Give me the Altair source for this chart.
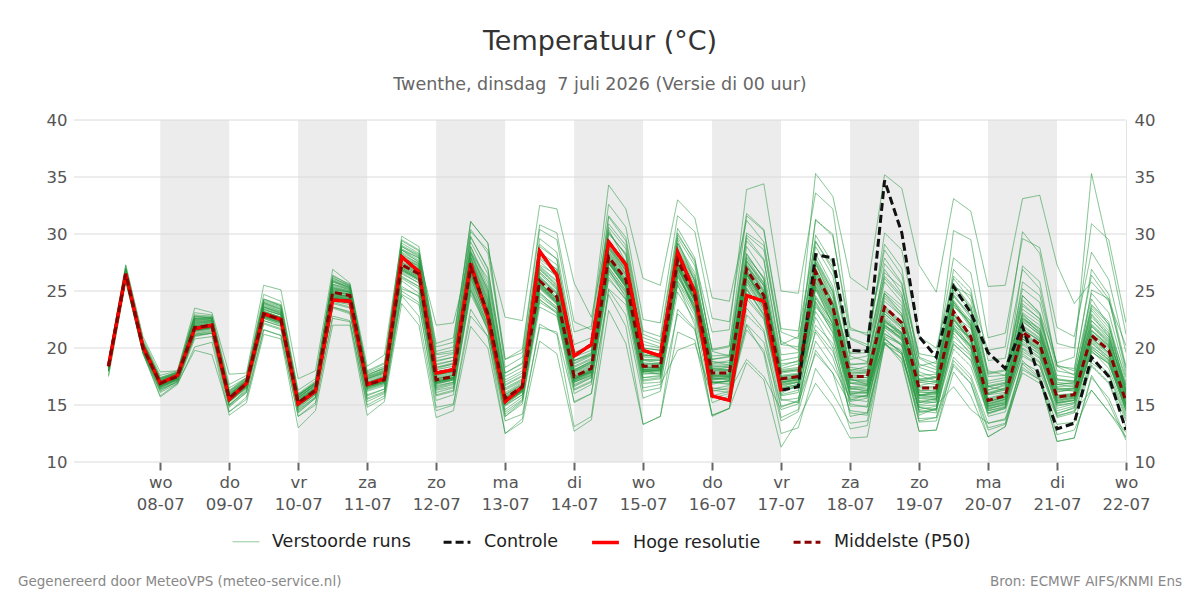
import json
import altair as alt
import pandas as pd

# ---------------- data ----------------
# time axis: hours after 07-07 00:00, one value every 6 hours (07-07 06:00 ... 22-07 00:00)
hours = [6 + 6 * i for i in range(60)]

hoge_resolutie = [18.4,26.5,20.1, 16.9,17.6,21.7,22.0, 15.5,16.9,23.0,22.5, 15.1,16.2,24.2,24.1,
                  16.8,17.3,28.0,26.7, 17.8,18.1,27.4,22.7, 15.3,16.6,28.5,26.4, 19.3,20.3,29.3,27.3,
                  19.8,19.3,28.4,24.9, 15.8,15.4,24.6,24.1, 16.2]

controle = [18.4,26.5,20.1, 16.9,17.6,21.7,22.0, 15.5,16.9,23.0,22.5, 15.1,16.2,24.2,24.1,
            16.8,17.3,28.0,26.7, 17.8,18.1,27.4,22.7, 15.3,16.6,28.5,26.4, 19.3,20.3,29.3,27.3,
            19.8,19.3,28.4,24.9, 15.8,15.4,24.6,24.1, 16.3,16.6,28.2,27.9, 19.8,19.7,34.7,30.1,
            21.0,19.2,25.4,23.1, 19.6,18.2,21.9,17.3, 12.9,13.4,19.2,17.5, 12.8]

middelste = [18.4,26.5,20.0, 16.9,17.5,21.8,22.0, 15.6,16.9,23.0,22.5, 15.2,16.3,24.9,24.6,
             16.8,17.2,27.3,26.5, 17.2,17.5,27.1,23.0, 15.6,16.6,25.9,24.5, 17.5,18.2,28.0,26.0,
             18.4,18.4,27.7,24.6, 17.8,17.8,26.9,24.6, 17.3,17.5,26.7,23.6, 17.5,17.5,23.6,22.2,
             16.5,16.5,23.2,21.0, 15.4,15.8,21.4,20.3, 15.7,15.9,21.1,19.8, 15.3]

run_01 = [18.6,26.8,20.3, 17.2,17.8,22.5,22.6, 15.9,17.1,23.8,23.2, 15.6,16.8,25.5,25.1, 17.3,17.9,28.4,27.6, 18.2,18.6,28.9,25.3, 16.4,17.2,27.1,25.8, 18.6,19.3,30.2,28.1, 19.5,19.1,29.5,25.8, 18.2,18.0,25.3,22.9, 16.0,16.8,24.6,22.1, 15.9,16.3,22.4,21.3, 15.2,15.6,24.9,23.3, 16.7,17.0,27.2,25.8, 18.4,17.6,24.3,22.0, 16.1]
run_02 = [18.0,26.2,19.8, 16.5,17.2,21.1,21.3, 15.0,16.4,22.4,21.9, 14.6,15.7,23.9,23.5, 15.9,16.4,26.1,25.2, 16.3,16.6,25.4,21.8, 14.2,15.4,24.3,23.0, 16.4,17.1,26.5,24.6, 17.1,17.3,25.8,23.1, 16.2,16.5,24.8,23.9, 16.9,17.3,22.0,20.4, 15.3,15.6,20.8,19.6, 14.1,14.7,21.5,20.2, 14.6,15.1,19.9,18.8, 14.0,14.5,18.7,17.6, 13.8]
run_03 = [18.8,27.0,20.6, 17.4,17.9,22.9,22.8, 16.5,17.4,24.3,23.7, 15.8,17.0,25.9,25.3, 17.6,18.3,28.9,28.1, 19.5,19.8,29.8,26.9, 17.8,18.7,29.6,28.4, 20.3,20.9,31.5,29.4, 21.2,20.6,30.1,27.5, 19.8,20.1,29.9,28.6, 20.3,21.0,35.3,33.3, 26.2,25.1,35.2,34.0, 27.3,24.9,33.1,32.0, 25.4,25.5,33.1,33.4, 27.3,23.9,25.8,24.1, 20.2]
run_04 = [17.6,25.9,19.6, 15.8,16.9,19.8,19.4, 14.4,15.5,21.6,21.1, 14.0,15.0,22.6,22.3, 15.0,15.8,24.6,22.8, 14.5,15.0,22.8,21.0, 13.6,14.2,21.8,21.4, 15.3,16.0,25.1,22.9, 15.6,16.2,23.0,21.6, 15.2,15.8,21.6,19.8, 13.6,14.4,19.8,17.8, 12.9,13.2,20.3,19.5, 13.5,13.6,18.4,16.9, 12.8,13.3,18.9,17.4, 12.4,12.8,16.3,14.4, 12.2]
run_05 = [18.2,26.4,20.1, 16.8,17.4,21.6,21.9, 15.4,16.7,22.9,22.3, 15.0,16.1,24.6,24.3, 16.6,17.0,27.0,26.2, 17.0,17.4,26.5,22.8, 15.3,16.3,25.4,24.0, 17.2,18.0,27.5,25.4, 18.1,18.0,27.0,24.0, 17.5,17.6,26.4,24.1, 17.0,17.3,26.1,23.0, 17.2,17.0,23.0,21.8, 16.2,16.0,22.6,20.6, 15.0,15.5,21.0,19.8, 15.2,15.5,20.6,19.2, 14.8]
run_06 = [18.5,26.6,20.2, 17.0,17.7,22.2,22.4, 15.8,17.0,23.4,22.9, 15.5,16.6,25.3,25.0, 17.5,18.1,29.0,28.2, 19.4,19.6,30.2,28.6, 22.7,22.4,32.5,32.2, 25.7,22.7,30.4,27.5, 20.6,20.1,27.2,25.3, 18.6,18.9,28.3,26.0, 18.2,18.6,27.9,25.1, 18.0,18.4,25.8,24.0, 17.1,17.4,24.6,22.6, 16.3,16.8,23.1,22.0, 16.5,16.4,22.7,21.2, 16.0]
run_07 = [18.3,26.5,20.4, 17.1,17.6,22.8,22.6, 15.7,17.2,24.0,23.5, 15.9,16.9,26.2,25.4, 17.9,18.6,29.4,28.5, 20.1,20.5,31.1,29.2, 19.0,19.6,30.4,29.5, 21.4,21.9,34.3,32.2, 26.1,25.5,33.0,31.4, 24.4,24.1,31.2,29.3, 20.6,19.8,28.9,26.3, 19.3,18.8,27.4,25.6, 17.6,17.1,25.7,23.4, 16.6,16.3,22.6,21.4, 16.1,16.5,23.5,21.8, 17.4]
run_08 = [18.4,26.3,19.9, 16.7,17.3,21.5,21.8, 15.3,16.6,23.2,22.7, 15.3,16.5,25.1,24.9, 16.9,17.5,27.8,27.0, 17.6,18.0,28.3,25.1, 15.9,16.8,27.3,26.4, 18.0,18.9,29.3,27.6, 19.3,19.5,29.9,27.7, 21.4,21.6,33.9,34.4, 25.0,24.8,33.6,32.2, 21.8,21.1,28.6,26.4, 19.2,18.6,26.3,24.8, 17.5,17.6,24.2,22.9, 17.2,17.0,22.4,20.8, 16.3]
run_09 = [18.1,26.2,19.7, 16.4,17.0,21.2,21.4, 15.0,16.3,22.6,22.0, 14.7,15.9,24.0,23.6, 15.8,16.4,25.9,24.8, 15.9,16.3,24.7,21.7, 14.0,15.1,23.6,22.8, 16.0,16.8,26.0,24.3, 16.9,17.0,24.9,22.4, 15.6,16.0,22.1,20.5, 14.8,15.4,21.6,19.7, 15.4,15.9,22.0,20.9, 15.8,16.2,23.8,22.1, 15.5,15.9,20.6,19.4, 14.7,15.1,20.0,18.6, 15.1]
run_10 = [18.9,27.2,20.8, 17.6,18.0,23.1,22.9, 16.8,17.6,24.7,24.1, 16.3,17.3,26.4,25.5, 17.4,18.0,28.6,27.5, 18.3,18.7,27.9,23.6, 15.0,16.2,26.6,25.3, 17.9,18.7,28.9,26.8, 18.9,18.7,26.7,23.3, 16.9,17.1,28.0,26.2, 18.0,18.2,25.2,22.4, 16.9,16.7,21.8,20.9, 15.8,15.6,20.4,18.9, 14.3,14.8,22.6,21.7, 16.8,16.6,21.9,20.4, 15.7]
run_11 = [18.0,26.0,19.6, 16.2,17.1,21.0,21.3, 14.9,16.1,22.1,21.6, 14.3,15.6,23.5,23.0, 15.5,16.1,25.2,24.6, 16.5,16.9,26.2,22.4, 15.6,16.5,24.9,23.5, 17.0,17.6,27.0,25.1, 17.8,17.7,26.4,23.8, 17.2,17.4,25.8,23.4, 16.8,17.0,24.4,21.8, 16.4,16.6,22.8,21.3, 15.6,15.8,21.9,20.1, 14.8,15.2,20.3,19.2, 15.1,15.4,19.7,18.6, 14.6]
run_12 = [18.7,26.9,20.5, 17.3,17.8,22.6,22.7, 16.2,17.3,24.1,23.6, 15.9,16.9,26.0,25.4, 17.7,18.2,29.8,28.9, 19.7,20.1,31.1,29.2, 18.3,19.2,29.1,27.8, 19.6,20.1,30.9,29.0, 20.9,20.4,28.6,25.9, 18.8,18.5,27.6,25.7, 18.4,18.9,29.3,27.1, 19.6,19.9,26.9,24.8, 17.9,17.4,24.2,22.3, 16.0,16.5,22.8,21.2, 16.4,16.2,25.1,24.3, 18.2]
run_13 = [18.5,26.7,20.3, 17.1,17.7,22.4,22.5, 16.0,17.1,23.6,23.0, 15.7,16.7,25.6,25.2, 18.0,18.7,28.6,27.9, 22.0,22.2,28.4,26.1, 17.8,18.6,27.8,26.6, 18.9,19.4,28.7,26.5, 19.4,19.2,27.8,25.0, 18.1,18.3,27.1,25.5, 17.9,18.1,27.6,24.9, 18.3,18.1,24.8,23.0, 17.2,17.0,23.8,21.8, 15.9,16.1,21.9,20.8, 16.2,16.3,21.5,20.2, 15.9]
run_14 = [17.5,25.8,19.5, 15.7,16.8,20.1,20.5, 14.1,15.2,21.2,20.8, 13.0,14.5,22.0,22.0, 14.1,15.3,23.9,22.0, 13.9,14.5,21.9,20.0, 12.5,13.5,20.6,19.5, 12.7,13.7,23.3,20.4, 13.3,14.0,21.4,20.7, 14.0,14.7,18.7,17.2, 11.3,13.7,16.9,14.9, 12.1,12.2,20.4,19.0, 12.7,12.8,17.9,15.8, 12.2,13.1,18.3,17.2, 11.8,12.1,17.6,15.2, 11.9]
run_15 = [18.6,26.7,20.2, 17.0,17.6,22.1,22.3, 15.8,17.0,23.5,23.0, 15.4,16.5,25.2,24.9, 17.0,17.5,27.9,27.2, 17.7,17.9,27.8,24.0, 16.0,16.9,26.7,25.2, 18.1,18.8,28.7,26.7, 18.9,18.9,28.4,25.4, 18.4,18.3,27.7,25.5, 17.9,18.1,27.5,24.6, 18.1,18.0,24.6,23.0, 17.0,16.8,24.1,22.0, 16.0,16.3,22.3,21.2, 16.3,16.4,21.9,20.5, 15.9]
run_16 = [18.2,26.3,19.9, 16.7,17.4,21.7,21.9, 15.4,16.8,22.8,22.4, 15.1,16.2,24.5,24.3, 16.6,17.1,26.8,26.0, 16.8,17.2,26.2,22.3, 15.1,16.1,25.3,23.9, 17.0,17.7,27.4,25.4, 17.9,18.1,27.3,24.3, 17.6,17.7,26.5,24.3, 17.2,17.4,26.3,23.2, 17.3,17.2,23.2,21.9, 16.3,16.2,22.9,20.8, 15.2,15.6,21.1,20.0, 15.5,15.7,20.9,19.5, 15.1]
run_17 = [18.3,26.4,20.0, 16.9,17.5,21.9,22.1, 15.6,16.9,23.1,22.6, 15.3,16.4,24.9,24.7, 16.7,17.2,27.3,26.6, 17.3,17.6,26.8,23.1, 15.4,16.4,25.6,24.2, 17.4,18.1,27.8,25.7, 18.3,18.3,26.8,23.4, 16.5,16.3,24.3,22.5, 15.4,15.6,21.4,19.2, 14.5,14.3,20.5,19.8, 13.6,13.9,19.2,17.6, 13.4,13.8,18.6,17.3, 13.3,13.5,18.4,16.9, 13.1]
run_18 = [18.4,26.5,20.1, 17.0,17.5,21.9,22.1, 15.6,17.0,23.1,22.6, 15.2,16.3,24.7,24.5, 16.9,17.4,27.6,26.8, 17.5,17.8,27.5,23.6, 15.8,16.7,26.3,24.9, 17.9,18.6,28.5,26.5, 18.7,18.6,28.1,25.0, 18.2,18.1,27.4,25.1, 17.6,17.8,27.0,24.0, 19.5,19.6,30.1,28.6, 21.0,20.0,26.1,24.2, 18.0,17.6,23.0,21.5, 16.8,17.0,23.7,22.1, 16.4]
run_19 = [18.1,26.1,19.8, 16.6,17.2,21.4,21.7, 15.3,16.5,22.7,22.2, 14.9,16.0,24.3,24.0, 16.4,16.9,26.6,25.7, 16.6,17.0,25.8,22.0, 15.0,15.9,24.8,23.6, 16.8,17.5,27.1,25.0, 17.7,17.8,27.0,24.1, 17.0,16.8,26.0,23.6, 16.5,16.8,25.4,22.5, 16.6,16.7,22.6,21.3, 15.9,15.7,22.2,20.1, 14.9,15.2,20.4,19.5, 15.0,15.2,20.2,18.9, 14.5]
run_20 = [18.6,26.8,20.4, 17.2,17.8,22.6,22.4, 16.0,17.2,23.9,23.3, 15.7,16.8,25.8,25.2, 17.3,17.8,28.3,27.4, 18.5,18.9,28.4,24.8, 16.7,17.5,27.9,26.9, 18.9,19.5,31.6,29.7, 21.5,21.0,30.5,27.9, 19.7,19.3,29.7,27.8, 18.9,19.2,29.9,27.4, 19.0,19.3,25.0,23.7, 17.2,17.5,26.9,25.2, 17.8,18.1,24.6,23.0, 17.3,17.1,23.3,21.5, 16.6]
run_21 = [18.0,26.1,19.7, 16.4,17.1,21.2,21.5, 15.0,16.2,22.4,21.9, 14.5,15.7,23.6,23.2, 15.3,16.0,25.0,24.0, 14.8,15.1,23.4,21.0, 12.5,13.8,22.1,21.2, 13.1,14.0,25.2,23.8, 16.2,16.5,25.9,23.5, 16.8,17.2,26.1,24.0, 17.1,17.4,25.8,22.8, 16.6,16.4,22.0,20.8, 15.2,15.4,21.8,20.3, 14.9,15.4,20.8,19.6, 15.3,15.6,20.5,19.0, 14.9]
run_22 = [18.2,26.3,19.9, 16.7,17.3,21.6,21.8, 15.4,16.7,22.9,22.4, 15.0,16.1,24.4,24.2, 16.3,16.8,26.3,25.4, 16.1,16.5,25.1,22.0, 14.4,15.5,24.0,23.1, 15.2,16.0,24.7,21.9, 13.3,14.0,23.4,21.7, 14.1,14.7,23.5,21.6, 14.9,15.3,24.4,22.3, 15.8,15.7,22.1,20.7, 14.5,14.3,21.0,19.6, 14.0,14.4,19.5,18.4, 14.5,14.9,19.8,18.2, 14.2]
run_23 = [18.4,26.6,20.2, 16.9,17.6,22.0,22.2, 15.6,16.9,23.2,22.7, 15.3,16.4,25.0,24.7, 16.8,17.3,27.5,26.7, 17.3,17.6,27.2,23.4, 15.6,16.5,26.2,24.8, 17.5,18.2,28.1,25.8, 18.0,17.7,25.6,22.0, 14.1,14.7,22.9,21.4, 13.9,14.6,23.6,21.9, 14.9,14.9,22.3,21.2, 14.3,14.6,22.9,21.7, 15.6,16.0,21.6,20.6, 15.8,16.0,21.3,20.1, 15.5]
run_24 = [18.5,26.6,20.1, 17.0,17.6,22.2,22.3, 15.7,17.0,23.3,22.9, 15.4,16.5,25.1,24.8, 16.9,17.4,27.7,27.0, 17.6,17.9,27.6,23.8, 15.7,16.6,26.5,25.1, 17.8,18.5,28.4,26.4, 18.6,18.6,28.0,25.1, 18.0,18.1,27.3,25.0, 17.4,17.6,26.9,23.9, 17.7,17.8,24.1,22.8, 18.4,18.8,30.3,29.5, 20.9,21.3,29.6,28.8, 21.8,21.0,28.4,26.0, 19.6]
run_25 = [18.2,26.2,19.8, 16.6,17.3,21.5,21.7, 15.3,16.6,22.7,22.2, 15.0,16.1,24.2,23.9, 16.5,17.0,26.8,26.0, 16.9,17.3,26.4,22.6, 15.2,16.2,25.3,23.9, 17.1,17.8,27.5,25.3, 17.9,18.0,27.1,24.0, 17.2,17.3,26.2,23.8, 16.7,17.0,25.4,22.0, 15.5,15.3,20.8,19.6, 13.8,13.9,18.6,16.9, 12.2,13.1,18.1,17.2, 11.8,12.1,17.4,15.6, 12.1]
run_26 = [18.7,26.9,20.5, 17.3,17.9,22.7,22.7, 16.2,17.4,24.2,23.7, 15.9,17.0,26.1,25.5, 17.6,18.2,28.9,28.0, 18.8,19.2,29.3,26.5, 17.2,18.0,28.4,27.3, 19.2,19.8,30.1,28.2, 20.0,19.8,29.2,26.6, 19.0,19.2,30.1,29.0, 20.3,20.1,31.3,29.8, 21.6,21.3,27.9,25.7, 19.1,18.3,24.0,22.1, 16.6,16.9,25.8,24.6, 18.5,18.0,26.9,24.7, 18.4]
run_27 = [18.3,26.4,20.0, 16.8,17.4,21.8,21.9, 15.5,16.8,23.0,22.5, 15.1,16.2,24.6,24.4, 16.7,17.2,27.1,26.3, 17.1,17.4,26.6,22.9, 15.4,16.4,25.7,24.3, 17.3,18.0,27.8,25.6, 18.2,18.2,27.4,24.3, 17.6,17.5,26.7,24.2, 16.2,16.6,24.0,21.3, 14.0,14.3,21.2,20.4, 15.0,15.3,22.5,20.8, 15.3,15.7,22.0,20.9, 15.9,16.0,21.5,20.2, 15.6]
run_28 = [18.9,27.3,21.0, 17.9,18.0,23.5,23.1, 17.7,17.8,25.5,25.1, 17.3,18.0,26.9,25.7, 18.4,19.4,29.5,28.6, 20.4,20.9,30.4,28.3, 19.0,19.9,30.8,30.1, 22.3,21.6,32.6,30.6, 22.5,22.2,31.6,30.2, 22.6,22.3,31.8,30.4, 21.7,21.5,29.4,26.8, 20.8,20.1,26.3,24.6, 18.6,18.1,25.1,23.6, 17.7,18.0,25.2,24.0, 18.0,17.7,24.8,23.1, 17.6]
run_29 = [18.0,26.0,19.5, 16.1,16.9,20.8,21.0, 14.4,15.7,21.6,21.1, 14.0,15.2,22.8,22.4, 14.8,15.6,24.7,23.8, 15.4,15.9,25.0,21.5, 14.0,15.3,24.5,23.4, 16.6,17.4,26.8,24.9, 17.4,17.5,26.2,23.7, 17.0,17.1,25.6,23.2, 16.4,16.7,23.8,21.4, 16.0,16.1,22.5,21.1, 15.4,15.5,21.7,20.0, 14.5,14.9,23.4,22.3, 16.8,16.9,22.9,21.0, 16.3]
run_30 = [18.5,26.6,20.0, 16.9,17.5,21.9,22.0, 15.7,16.9,23.0,22.5, 15.2,16.3,24.9,24.6, 16.9,17.3,27.3,26.4, 17.2,17.4,27.1,23.1, 15.5,16.5,26.0,24.5, 17.5,18.2,28.0,26.0, 18.4,18.4,27.6,24.6, 17.8,17.8,26.9,24.6, 17.3,17.5,26.6,23.6, 17.5,17.4,23.6,22.2, 16.5,16.5,23.1,21.0, 15.4,15.8,21.4,20.3, 15.7,15.9,21.1,19.8, 15.3]
run_31 = [18.6,26.7,20.3, 17.1,17.7,22.3,22.4, 15.9,17.1,23.6,23.1, 15.6,16.7,25.4,25.0, 17.2,17.7,28.1,27.3, 18.1,18.4,28.1,24.4, 16.3,17.1,27.0,25.6, 18.3,19.0,29.0,27.0, 19.2,19.1,28.8,25.9, 18.8,18.7,28.2,26.1, 15.5,15.2,19.5,17.8, 15.1,14.8,21.9,21.2, 15.9,16.1,23.6,22.4, 16.6,16.9,22.9,21.7, 17.0,16.8,22.1,20.7, 16.7]
run_32 = [18.3,26.5,20.1, 16.8,17.5,21.8,22.0, 15.5,16.8,23.0,22.4, 15.2,16.3,24.7,24.5, 16.8,17.3,27.4,26.6, 17.3,17.6,27.3,23.3, 15.6,16.6,26.1,24.7, 17.6,18.3,28.2,26.1, 18.5,18.5,27.9,24.8, 17.9,17.9,27.1,24.8, 17.5,17.7,26.8,23.7, 17.6,17.6,23.7,22.3, 16.6,16.6,23.3,21.2, 15.9,16.4,24.6,23.1, 18.7,19.2,35.3,28.6, 21.2]
run_33 = [18.1,26.3,19.9, 16.6,17.3,21.6,21.8, 15.3,16.6,22.8,22.3, 14.9,16.1,24.4,24.1, 16.5,17.0,26.7,25.9, 16.9,17.2,26.5,22.7, 15.3,16.3,25.6,24.1, 17.3,17.9,27.6,25.5, 18.0,18.1,27.2,24.2, 17.3,17.4,26.5,24.0, 16.6,17.0,25.7,22.6, 16.4,16.3,20.4,19.1, 14.8,14.6,19.9,18.4, 14.2,14.7,20.0,19.1, 14.9,15.2,19.6,18.7, 14.4]
run_34 = [18.4,26.5,20.0, 16.9,17.5,21.9,22.0, 15.6,16.9,23.1,22.6, 15.3,16.4,24.8,24.5, 16.8,17.2,27.3,26.5, 17.2,17.5,27.0,23.0, 15.5,16.5,25.8,24.4, 17.4,18.1,27.9,25.9, 18.3,18.3,27.5,24.5, 17.7,17.7,26.8,24.5, 17.2,17.4,26.6,23.5, 17.4,17.4,23.5,22.1, 16.7,17.0,25.4,24.6, 19.8,20.1,30.2,28.3, 20.4,20.0,30.9,29.5, 22.2]
run_35 = [18.2,26.4,20.0, 16.7,17.3,21.7,21.9, 15.4,16.7,22.9,22.4, 15.0,16.2,24.5,24.2, 16.6,17.1,26.9,26.1, 17.0,17.3,26.7,22.9, 15.3,16.3,25.5,24.1, 17.2,17.9,27.4,25.3, 17.9,17.9,26.6,23.2, 16.3,16.1,22.0,19.5, 12.5,13.0,18.2,16.0, 13.4,13.6,21.0,20.3, 14.4,14.7,22.0,20.9, 15.1,15.5,21.3,20.2, 15.4,15.7,20.8,19.6, 15.0]
run_36 = [18.6,26.8,20.3, 17.1,17.7,22.4,22.5, 15.9,17.2,23.7,23.2, 15.6,16.8,25.6,25.1, 17.3,17.8,28.2,27.4, 18.3,18.6,28.3,24.6, 16.5,17.3,27.2,25.9, 18.4,19.1,29.2,27.3, 19.3,19.3,29.0,26.1, 19.0,19.3,29.4,27.7, 19.4,19.6,31.2,30.0, 20.9,20.3,29.1,27.0, 18.3,17.8,24.5,22.9, 16.9,17.2,23.9,22.5, 17.6,17.4,23.0,21.3, 16.8]
run_37 = [18.0,26.1,19.8, 16.5,17.2,21.3,21.6, 15.2,16.5,22.6,22.1, 14.8,15.9,24.1,23.8, 16.2,16.7,26.2,25.4, 16.4,16.8,25.6,22.1, 14.9,15.9,24.7,23.4, 16.7,17.4,26.7,24.8, 17.4,17.6,26.3,23.6, 17.0,17.1,25.9,23.5, 16.5,16.8,25.1,22.1, 16.5,16.2,22.4,21.0, 15.6,15.5,21.7,19.8, 14.7,15.1,19.7,18.7, 14.2,14.8,19.0,17.8, 14.0]
run_38 = [18.8,27.0,20.6, 17.4,17.9,22.8,22.7, 16.3,17.4,24.3,23.8, 16.0,17.1,26.3,25.6, 17.8,18.4,29.2,28.3, 19.1,19.5,29.7,27.0, 17.5,18.3,28.9,27.8, 19.6,20.2,30.6,28.7, 20.3,20.0,27.9,24.6, 17.4,17.2,25.1,23.0, 16.3,16.6,24.1,21.6, 16.1,16.0,22.2,21.4, 15.8,16.0,22.4,20.7, 15.3,15.7,21.7,20.6, 15.6,15.8,21.2,20.0, 15.4]
run_39 = [18.3,26.5,20.0, 16.9,17.4,21.8,22.0, 15.6,16.9,23.0,22.5, 15.2,16.3,24.8,24.5, 16.7,17.2,27.2,26.4, 17.1,17.4,26.8,22.9, 15.4,16.4,25.7,24.3, 17.3,18.0,27.7,25.6, 18.1,18.2,27.0,23.7, 17.0,16.9,25.2,22.8, 15.8,16.1,22.7,20.0, 14.3,14.1,20.5,18.7, 12.7,12.8,18.9,17.3, 13.0,13.4,18.7,17.9, 14.3,14.7,19.9,18.8, 14.6]
run_40 = [18.5,26.6,20.1, 17.0,17.6,22.0,22.2, 15.7,17.0,23.2,22.7, 15.3,16.4,25.0,24.7, 16.9,17.4,27.5,26.7, 17.4,17.7,27.3,23.4, 15.7,16.6,26.2,24.8, 17.7,18.4,28.3,26.3, 18.6,18.6,28.0,24.9, 18.0,18.0,27.2,24.9, 17.5,17.7,27.0,23.9, 17.8,17.9,24.4,22.8, 17.0,17.1,24.0,21.9, 16.1,16.5,22.4,21.1, 16.4,16.5,22.0,20.6, 16.0]
run_41 = [18.1,26.2,19.8, 16.6,17.2,21.5,21.8, 15.3,16.6,22.7,22.2, 14.9,16.0,24.3,24.0, 16.4,16.9,26.5,25.7, 16.7,17.0,26.0,22.4, 15.2,16.2,25.2,23.8, 17.0,17.6,26.9,24.4, 16.5,16.8,19.8,20.4, 15.8,16.2,19.0,17.5, 14.6,15.1,20.6,18.4, 15.6,15.8,21.8,20.7, 15.3,15.2,21.3,19.4, 14.5,14.8,20.8,19.9, 15.2,15.4,20.1,19.0, 14.8]
run_42 = [18.7,26.8,20.4, 17.2,17.8,22.5,22.6, 16.1,17.3,23.9,23.4, 15.8,16.9,25.8,25.3, 17.5,18.0,28.6,27.7, 18.6,18.9,28.6,25.0, 16.8,17.6,27.6,26.2, 18.7,19.4,29.5,27.4, 19.6,19.5,29.2,26.3, 19.3,19.4,28.9,26.7, 18.6,18.8,28.3,25.4, 18.5,18.7,26.1,24.4, 17.6,17.7,25.6,23.7, 17.1,17.4,23.7,22.6, 17.2,17.1,23.8,22.3, 17.0]
run_43 = [18.2,26.3,19.9, 16.7,17.3,21.6,21.8, 15.4,16.7,22.8,22.3, 15.0,16.1,24.5,24.2, 16.6,17.1,26.9,26.0, 17.0,17.3,26.7,22.8, 15.3,16.3,25.5,24.0, 17.2,17.9,27.6,25.5, 18.1,18.1,27.2,24.2, 17.4,17.5,26.5,24.2, 16.9,17.2,26.2,23.1, 17.0,16.9,23.3,21.8, 16.1,16.1,22.7,20.6, 15.1,15.5,21.0,19.9, 15.4,15.6,20.7,19.4, 15.0]
run_44 = [18.4,26.4,20.0, 16.8,17.4,21.8,21.9, 15.5,16.8,22.9,22.4, 15.1,16.2,24.7,24.4, 16.7,17.1,27.1,26.3, 17.1,17.4,26.8,22.8, 15.4,16.4,25.7,24.3, 17.4,18.0,27.8,25.7, 18.3,18.3,27.4,24.4, 17.6,17.6,26.6,24.2, 17.0,17.2,25.5,22.7, 16.2,16.1,21.6,20.2, 14.9,15.0,16.6,14.6, 13.4,13.7,17.8,16.9, 14.1,14.4,16.3,14.4, 12.6]
run_45 = [18.6,26.7,20.3, 17.1,17.7,22.3,22.4, 15.9,17.1,23.6,23.1, 15.5,16.6,25.3,24.9, 17.1,17.6,28.0,27.2, 17.9,18.2,28.0,24.2, 16.1,17.0,26.9,25.5, 18.1,18.8,28.9,26.9, 19.0,19.0,28.6,25.6, 18.5,18.5,27.9,25.7, 18.1,18.3,27.8,24.9, 18.6,18.6,26.6,25.3, 19.5,19.2,27.9,26.6, 18.9,19.1,26.9,25.2, 18.4,18.2,26.4,24.3, 17.9]
run_46 = [17.9,26.0,19.6, 16.3,17.0,21.1,21.3, 14.8,16.1,22.2,21.7, 14.4,15.6,23.6,23.1, 15.6,16.2,25.4,24.5, 15.8,16.2,25.2,21.6, 14.6,15.7,24.2,23.2, 16.3,17.0,26.2,24.2, 17.2,17.4,25.5,22.8, 16.4,16.7,24.6,22.6, 15.9,16.3,23.2,20.9, 15.9,15.8,21.3,20.2, 14.6,14.9,20.3,19.0, 14.3,14.7,19.3,18.4, 13.9,14.3,18.5,17.0, 13.6]
run_47 = [18.5,26.6,20.2, 17.0,17.6,22.1,22.3, 15.8,17.0,23.4,22.9, 15.4,16.5,25.2,24.9, 17.0,17.5,27.9,27.1, 17.8,18.1,27.9,24.1, 15.9,16.8,26.9,25.4, 18.0,18.7,28.8,26.8, 19.0,18.9,28.3,25.2, 18.3,18.4,27.6,25.4, 17.8,18.0,27.3,24.4, 17.9,17.9,24.8,23.4, 17.3,17.4,24.7,22.8, 16.3,16.7,22.5,21.4, 16.6,16.7,22.4,21.0, 16.2]
run_48 = [18.2,26.3,19.9, 16.7,17.3,21.6,21.8, 15.4,16.7,22.8,22.3, 15.0,16.1,24.4,24.2, 16.6,17.0,26.9,26.1, 16.9,17.2,26.5,22.7, 15.2,16.2,25.4,24.0, 17.1,17.8,27.5,25.4, 18.0,18.0,27.1,24.1, 17.3,17.4,26.4,24.0, 16.8,17.1,25.9,22.9, 16.9,16.8,23.0,21.6, 15.9,15.9,22.5,20.4, 14.9,15.3,20.8,19.7, 15.2,15.4,20.4,19.2, 14.8]
run_49 = [18.7,26.9,20.5, 17.3,17.8,22.6,22.6, 16.1,17.2,24.0,23.4, 15.8,16.9,25.9,25.3, 17.4,17.9,28.7,27.9, 18.9,19.2,28.9,25.7, 17.0,17.8,28.1,26.9, 18.9,19.6,30.0,28.3, 20.0,19.8,29.7,27.2, 19.9,20.2,31.6,30.3, 21.4,20.8,27.5,24.0, 17.3,16.8,20.9,19.4, 14.8,14.5,20.6,19.3, 14.7,15.0,21.6,20.7, 15.8,15.9,21.6,20.3, 15.6]
run_50 = [18.3,26.4,20.0, 16.8,17.4,21.8,21.9, 15.5,16.8,22.9,22.4, 15.1,16.2,24.6,24.3, 16.7,17.1,27.0,26.2, 17.0,17.4,26.7,22.9, 15.3,16.3,25.6,24.1, 17.3,17.9,27.7,25.6, 18.1,18.2,27.3,24.3, 17.5,17.5,26.6,24.2, 17.0,17.3,26.4,23.3, 17.2,17.1,23.4,22.0, 16.3,16.3,22.9,20.8, 15.3,15.7,21.2,20.1, 15.6,15.8,20.9,19.6, 15.2]

runs = [run_01, run_02, run_03, run_04, run_05, run_06, run_07, run_08, run_09, run_10,
        run_11, run_12, run_13, run_14, run_15, run_16, run_17, run_18, run_19, run_20,
        run_21, run_22, run_23, run_24, run_25, run_26, run_27, run_28, run_29, run_30,
        run_31, run_32, run_33, run_34, run_35, run_36, run_37, run_38, run_39, run_40,
        run_41, run_42, run_43, run_44, run_45, run_46, run_47, run_48, run_49, run_50]

# x-axis tick labels (one per day, at 00:00)
tick_hours = [24, 48, 72, 96, 120, 144, 168, 192, 216, 240, 264, 288, 312, 336, 360]
tick_days = ["wo", "do", "vr", "za", "zo", "ma", "di", "wo", "do", "vr", "za", "zo", "ma", "di", "wo"]
tick_dates = ["08-07", "09-07", "10-07", "11-07", "12-07", "13-07", "14-07", "15-07",
              "16-07", "17-07", "18-07", "19-07", "20-07", "21-07", "22-07"]
# shaded (grey) days: start hour of each shaded day
shaded_start = [24, 72, 120, 168, 216, 264, 312]
y_ticks = [10, 15, 20, 25, 30, 35, 40]

SERIES = ["Verstoorde runs", "Controle", "Hoge resolutie", "Middelste (P50)"]
COLORS = ["#2a9a42", "#111111", "#ff0000", "#8b0000"]
DASHES = [[1, 0], [8, 4], [1, 0], [7, 4]]
WIDTHS = [1.0, 3.0, 3.5, 3.0]
OPACS = [0.6, 1.0, 1.0, 1.0]

for r in runs:
    assert len(r) == 60, len(r)
assert len(controle) == 60 and len(middelste) == 60 and len(hoge_resolutie) == 40

# ---------------- tables ----------------
rows = []
for i, run in enumerate(runs, start=1):
    for h, v in zip(hours, run):
        rows.append({"uur": h, "temp": v, "run": i, "reeks": SERIES[0]})
ens_df = pd.DataFrame(rows)


def series_df(values, name):
    return pd.DataFrame({"uur": hours[:len(values)], "temp": values, "reeks": name})


ctrl_df = series_df(controle, SERIES[1])
hr_df = series_df(hoge_resolutie, SERIES[2])
med_df = series_df(middelste, SERIES[3])
band_df = pd.DataFrame({"start": shaded_start, "end": [s + 24 for s in shaded_start]})
grid_df = pd.DataFrame({"v": y_ticks})

FONT = "DejaVu Sans"
W, H = 1052, 342

x_scale = alt.Scale(domain=[-6, 360], nice=False, zero=False)
y_scale = alt.Scale(domain=[10, 40], nice=False, zero=False)

label_expr = "[{d}[indexof({h}, datum.value)], {t}[indexof({h}, datum.value)]]".format(
    d=json.dumps(tick_days), t=json.dumps(tick_dates), h=json.dumps(tick_hours))

x_axis = alt.Axis(values=tick_hours, labelExpr=label_expr, title=None, grid=False, domain=False,
                  ticks=True, tickSize=8, tickWidth=2, tickColor="#666666",
                  labelFont=FONT, labelFontSize=16.5, labelColor="#555555", labelPadding=4,
                  labelLineHeight=22, labelFlush=False, labelOverlap=False, labelAngle=0,
                  labelBaseline="top")

left_axis = alt.Axis(orient="left", values=y_ticks, title=None, grid=False, domain=False, ticks=False,
                     labelFont=FONT, labelFontSize=16.5, labelColor="#555555", labelPadding=7)
right_axis = alt.Axis(orient="right", values=y_ticks, title=None, grid=False, domain=True,
                      domainColor="#e2e2e2", domainWidth=1, ticks=False,
                      labelFont=FONT, labelFontSize=16.5, labelColor="#555555", labelPadding=8)

legend = alt.Legend(title=None, orient="none", legendX=158, legendY=407, direction="horizontal",
                    symbolType="stroke", symbolSize=720, labelFont=FONT, labelFontSize=17.5,
                    labelColor="#222222", labelOffset=12, columnPadding=26)

enc_common = dict(
    color=alt.Color("reeks:N", scale=alt.Scale(domain=SERIES, range=COLORS), legend=legend),
    strokeDash=alt.StrokeDash("reeks:N", scale=alt.Scale(domain=SERIES, range=DASHES), legend=legend),
    strokeWidth=alt.StrokeWidth("reeks:N", scale=alt.Scale(domain=SERIES, range=WIDTHS, type="ordinal"),
                                legend=legend),
    opacity=alt.Opacity("reeks:N", scale=alt.Scale(domain=SERIES, range=OPACS, type="ordinal"),
                        legend=legend),
)

bands = alt.Chart(band_df).mark_rect(color="#ececec").encode(
    x=alt.X("start:Q", scale=x_scale, axis=x_axis),
    x2="end:Q",
    y=alt.value(0),
    y2=alt.value(H),
)

grid = alt.Chart(grid_df).mark_rule(color="#dadada", strokeWidth=1).encode(
    y=alt.Y("v:Q", scale=y_scale, axis=left_axis)
)

ens = alt.Chart(ens_df).mark_line(clip=True).encode(
    x=alt.X("uur:Q", scale=x_scale, axis=x_axis),
    y=alt.Y("temp:Q", scale=y_scale, axis=right_axis),
    detail="run:N",
    **enc_common,
)

ctrl = alt.Chart(ctrl_df).mark_line(clip=True).encode(
    x=alt.X("uur:Q", scale=x_scale, axis=x_axis),
    y=alt.Y("temp:Q", scale=y_scale, axis=None),
    **enc_common,
)
hires = alt.Chart(hr_df).mark_line(clip=True).encode(
    x=alt.X("uur:Q", scale=x_scale, axis=x_axis),
    y=alt.Y("temp:Q", scale=y_scale, axis=None),
    **enc_common,
)
med = alt.Chart(med_df).mark_line(clip=True).encode(
    x=alt.X("uur:Q", scale=x_scale, axis=x_axis),
    y=alt.Y("temp:Q", scale=y_scale, axis=None),
    **enc_common,
)

one = pd.DataFrame({"k": [0]})
foot_left = alt.Chart(one).mark_text(align="left", baseline="middle", font=FONT, fontSize=13.5,
                                     color="#888888").encode(
    x=alt.value(-56), y=alt.value(462), text=alt.value("Gegenereerd door MeteoVPS (meteo-service.nl)"))
foot_right = alt.Chart(one).mark_text(align="right", baseline="middle", font=FONT, fontSize=13.5,
                                      color="#888888").encode(
    x=alt.value(1108), y=alt.value(462), text=alt.value("Bron: ECMWF AIFS/KNMI Ens"))

chart = alt.layer(bands, grid, ens, ctrl, hires, med, foot_left, foot_right).resolve_axis(
    y="independent"
).properties(
    width=W,
    height=H,
    title=alt.TitleParams(
        text="Temperatuur (°C)",
        subtitle="Twenthe, dinsdag\u00a0 7 juli 2026 (Versie di 00 uur)",
        anchor="middle", font=FONT, fontSize=27, fontWeight="normal", color="#333333",
        subtitleFont=FONT, subtitleFontSize=17.5, subtitleColor="#666666",
        subtitlePadding=20, offset=18,
    ),
    autosize=alt.AutoSizeParams(type="none"),
    padding={"left": 74, "top": 120, "right": 74, "bottom": 138},
    background="white",
).configure_view(strokeWidth=0)

chart.save("out.html", embed_options={"renderer": "svg", "actions": False})
